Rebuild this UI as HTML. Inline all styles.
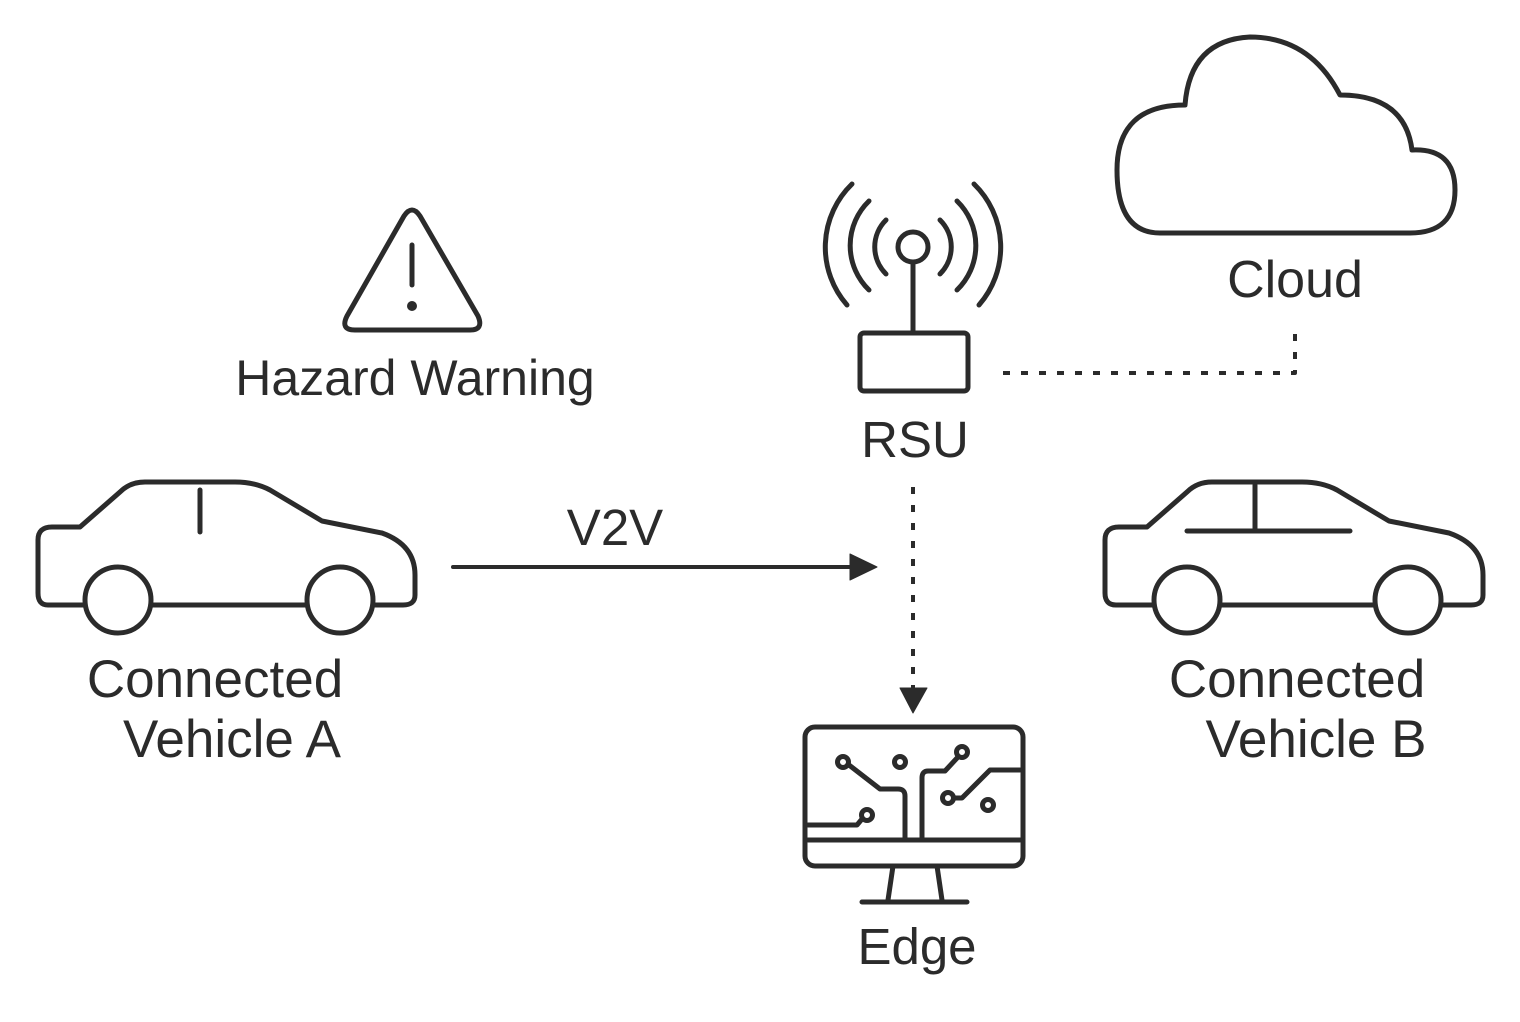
<!DOCTYPE html><html><head><style>body{margin:0;background:#fff}svg{display:block}text{font-family:"Liberation Sans",sans-serif;fill:#2b2b2b;text-anchor:middle;font-size:51px}</style></head><body>
<svg width="1520" height="1022" viewBox="0 0 1520 1022" fill="none" stroke="#2b2b2b" stroke-width="5" stroke-linecap="round" stroke-linejoin="round">
<path d="M1160 233 H1410 Q1455 233 1455 190 Q1455 148 1412 150 Q1405 95 1340 95 Q1310 37 1250 37 Q1190 40 1185 105 Q1117 105 1117 170 Q1117 233 1160 233 Z"/>
<path d="M404 216 Q412 204 420 216 L478 316 Q484 330 470 330 H355 Q340 330 347 316 Z"/>
<line x1="412" y1="245" x2="412" y2="285"/><circle cx="412" cy="306" r="2.5" fill="#2b2b2b"/>
<rect x="860" y="333" width="108" height="58" rx="4"/>
<line x1="913" y1="262" x2="913" y2="333"/><circle cx="913" cy="247" r="15"/>
<path d="M886 220 A38 38 0 0 0 886 274 M940 220 A38 38 0 0 1 940 274"/>
<path d="M869 201 A62 62 0 0 0 869 290 M957 201 A62 62 0 0 1 957 290"/>
<path d="M852 184 A88 88 0 0 0 847 305 M974 184 A88 88 0 0 1 979 305"/>
<path d="M1003 373 H1295 V325" stroke-dasharray="7 11" stroke-width="4" stroke-linecap="butt"/>
<path d="M913 487 V688" stroke-dasharray="7 11" stroke-width="4" stroke-linecap="butt"/>
<path d="M900 688 H927 L913 713 Z" fill="#2b2b2b" stroke-width="1"/>
<line x1="453" y1="567" x2="852" y2="567" stroke-width="4"/>
<path d="M850 554 L877 567 L850 580 Z" fill="#2b2b2b" stroke-width="1"/>
<path d="M85 605 H48 Q38 605 38 593 V540 Q38 527 52 527 H80 L120 492 Q130 482 145 482 H235 Q255 482 270 490 L322 521 L382 533 Q415 545 415 575 V595 Q415 605 403 605 H375 M152 605 H306"/>
<circle cx="118" cy="600" r="33"/><circle cx="340" cy="600" r="33"/>
<line x1="200" y1="490" x2="200" y2="532"/>
<path d="M1153 605 H1116 Q1105 605 1105 593 V540 Q1105 527 1119 527 H1147 L1187 492 Q1197 482 1212 482 H1302 Q1322 482 1337 490 L1389 521 L1449 533 Q1483 545 1483 575 V595 Q1483 605 1471 605 H1443 M1221 605 H1374"/>
<circle cx="1187" cy="600" r="33"/><circle cx="1408" cy="600" r="33"/>
<path d="M1187 531 H1350 M1255 485 V531"/>
<rect x="805" y="727" width="218" height="139" rx="10"/>
<line x1="808" y1="840" x2="1020" y2="840"/>
<path d="M893 866 L888 900 M937 866 L942 900 M862 902 H967"/>
<circle cx="843" cy="762" r="5.5"/><circle cx="900" cy="762" r="5.5"/><circle cx="962" cy="752" r="5.5"/><circle cx="948" cy="798" r="5.5"/><circle cx="988" cy="805" r="5.5"/><circle cx="867" cy="815" r="5.5"/>
<path d="M849 765 L880 789 H898 Q905 789 905 796 V840"/>
<path d="M958 757 L945 771 H928 Q922 771 922 778 V840"/>
<path d="M954 798 H962 L990 770 H1020"/>
<path d="M862 819 L857 825 H808"/>
<g stroke="none">
<text x="415" y="395" style="font-size:50px">Hazard Warning</text>
<text x="1295" y="297" style="font-size:52px">Cloud</text>
<text x="915" y="457">RSU</text>
<text x="615" y="545">V2V</text>
<text x="215" y="697" style="font-size:53px">Connected</text>
<text x="232" y="757" style="font-size:53px">Vehicle A</text>
<text x="1297" y="697" style="font-size:53px">Connected</text>
<text x="1316" y="757" style="font-size:53px">Vehicle B</text>
<text x="917" y="964">Edge</text>
</g>
</svg></body></html>
